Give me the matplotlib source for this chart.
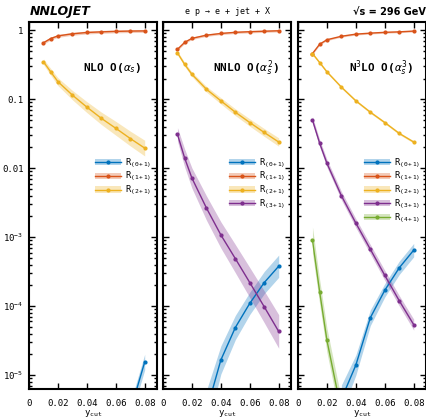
import numpy as np
import matplotlib
matplotlib.use("Agg")
import matplotlib.pyplot as plt
from matplotlib.patches import Patch
from matplotlib.lines import Line2D
from matplotlib.ticker import FixedLocator, LogLocator, NullFormatter

plt.rcParams['font.family'] = 'DejaVu Sans Mono'
plt.rcParams['mathtext.fontset'] = 'custom'
plt.rcParams['mathtext.rm'] = 'DejaVu Sans Mono'
plt.rcParams['mathtext.it'] = 'DejaVu Sans Mono:italic'
plt.rcParams['mathtext.bf'] = 'DejaVu Sans Mono:bold'

nan = np.nan
# y_cut points
ycut = [0.01, 0.015, 0.02, 0.03, 0.04, 0.05, 0.06, 0.07, 0.08]

# NLO
nlo_r01 = [nan, nan, nan, nan, nan, nan, nan, 3e-6, 1.55e-5]
nlo_r11 = [0.66, 0.76, 0.83, 0.89, 0.93, 0.95, 0.965, 0.975, 0.98]
nlo_r21 = [0.35, 0.25, 0.18, 0.115, 0.077, 0.053, 0.038, 0.027, 0.0196]
nlo_r01_unc = [1.3] * 9
nlo_r11_unc = [1.05] * 9
nlo_r21_unc = [1.1, 1.12, 1.14, 1.17, 1.2, 1.23, 1.26, 1.28, 1.3]

# NNLO
nnlo_r01 = [nan, nan, nan, 3e-6, 1.66e-5, 4.9e-5, 1.1e-4, 2.2e-4, 3.8e-4]
nnlo_r11 = [0.53, 0.67, 0.765, 0.85, 0.90, 0.935, 0.955, 0.97, 0.985]
nnlo_r21 = [0.47, 0.32, 0.23, 0.14, 0.095, 0.065, 0.046, 0.033, 0.024]
nnlo_r31 = [0.031, 0.014, 0.0072, 0.00266, 0.00108, 4.9e-4, 2.2e-4, 9.8e-5, 4.3e-5]
nnlo_r01_unc = [1, 1, 1, 2.0, 1.6, 1.5, 1.45, 1.45, 1.45]
nnlo_r11_unc = [1.04] * 9
nnlo_r21_unc = [1.06, 1.07, 1.08, 1.1, 1.11, 1.12, 1.13, 1.14, 1.15]
nnlo_r31_unc = [1.25, 1.35, 1.4, 1.5, 1.55, 1.6, 1.65, 1.7, 1.75]

# N3LO
n3lo_r01 = [nan, nan, nan, 4.5e-6, 1.4e-5, 6.8e-5, 1.7e-4, 3.6e-4, 6.5e-4]
n3lo_r11 = [0.46, 0.63, 0.73, 0.82, 0.88, 0.91, 0.935, 0.95, 0.975]
n3lo_r21 = [0.46, 0.34, 0.25, 0.15, 0.095, 0.065, 0.046, 0.032, 0.024]
n3lo_r31 = [0.05, 0.023, 0.0118, 0.004, 0.0016, 6.7e-4, 2.8e-4, 1.2e-4, 5.4e-5]
n3lo_r41 = [9.1e-4, 1.6e-4, 3.2e-5, 3e-6, nan, nan, nan, nan, nan]
n3lo_r01_unc = [1, 1, 1, 1.6, 1.4, 1.3, 1.25, 1.25, 1.25]
n3lo_r11_unc = [1.03] * 9
n3lo_r21_unc = [1.04] * 9
n3lo_r31_unc = [1.12, 1.13, 1.14, 1.15, 1.16, 1.17, 1.18, 1.19, 1.2]
n3lo_r41_unc = [1.55, 1.5, 1.5, 1.5, 1, 1, 1, 1, 1]

colors = ['#0072BD', '#D95319', '#EDB120', '#7E2F8E', '#77AC30']
names = [r'R$_{(0+1)}$', r'R$_{(1+1)}$', r'R$_{(2+1)}$', r'R$_{(3+1)}$', r'R$_{(4+1)}$']

panels = [
    (r'NLO O($\alpha_s$)', [nlo_r01, nlo_r11, nlo_r21],
     [nlo_r01_unc, nlo_r11_unc, nlo_r21_unc]),
    (r'NNLO O($\alpha_s^2$)', [nnlo_r01, nnlo_r11, nnlo_r21, nnlo_r31],
     [nnlo_r01_unc, nnlo_r11_unc, nnlo_r21_unc, nnlo_r31_unc]),
    (r'N$^3$LO O($\alpha_s^3$)', [n3lo_r01, n3lo_r11, n3lo_r21, n3lo_r31, n3lo_r41],
     [n3lo_r01_unc, n3lo_r11_unc, n3lo_r21_unc, n3lo_r31_unc, n3lo_r41_unc]),
]

fig = plt.figure(figsize=(4.26, 4.20), dpi=100)
lefts = [29 / 426, 163 / 426, 298 / 426]
width = 128 / 426
bottom = 1 - 389 / 420
height = (389 - 22) / 420

x = np.array(ycut)
for i, (label, series, uncs) in enumerate(panels):
    ax = fig.add_axes([lefts[i], bottom, width, height])
    handles = []
    for j, (vals, unc) in enumerate(zip(series, uncs)):
        v = np.array(vals)
        f = np.array(unc)
        ax.fill_between(x, v / f, v * f, color=colors[j], alpha=0.3, lw=0)
        ax.plot(x, v, '-', marker='o', ms=2, lw=1, color=colors[j])
        handles.append((Patch(facecolor=colors[j], alpha=0.3, lw=0),
                        Line2D([], [], color=colors[j], lw=1, marker='o', ms=2)))
    ax.set_yscale('log')
    ax.set_xlim(0, 0.0885)
    ax.set_ylim(6.3e-6, 1.32)
    ax.set_xticks([0, 0.02, 0.04, 0.06, 0.08])
    ax.set_xticklabels(['0', '0.02', '0.04', '0.06', '0.08'])
    ax.yaxis.set_major_locator(FixedLocator([1e-5, 1e-4, 1e-3, 1e-2, 0.1, 1]))
    ax.yaxis.set_minor_locator(LogLocator(base=10, subs=np.arange(2, 10)))
    ax.yaxis.set_minor_formatter(NullFormatter())
    if i == 0:
        ax.set_yticklabels([r'10$^{-5}$', r'10$^{-4}$', r'10$^{-3}$', '0.01', '0.1', '1'])
    else:
        ax.set_yticklabels([])
    ax.tick_params(which='both', direction='in', top=True, right=True,
                   labelsize=6.5, width=1)
    ax.tick_params(which='major', length=4)
    ax.tick_params(which='minor', length=2)
    ax.tick_params(axis='x', pad=7)
    ax.tick_params(axis='y', pad=4)
    for s in ax.spines.values():
        s.set_linewidth(1.5)
    ax.set_xlabel(r'y$_{\rm cut}$', fontsize=6.5, labelpad=0.5)
    ax.text(0.65, 0.875, label, transform=ax.transAxes, ha='center', va='center',
            fontsize=8, fontweight='bold')
    ax.legend(handles, names[:len(series)], loc='upper right',
              bbox_to_anchor=(1.0, 0.65), frameon=False, fontsize=6.4,
              handlelength=2.9, labelspacing=0.0, handletextpad=0.5,
              borderaxespad=0.2)

fig.text(30 / 426, 1 - 12 / 420, 'NNLOJET', ha='left', va='center', fontsize=9,
         fontweight='heavy', style='italic', family='DejaVu Sans')
fig.text(228 / 426, 1 - 12 / 420, 'e p \u2192 e + jet + X', ha='center', va='center',
         fontsize=6)
fig.text(1.0, 1 - 12 / 420, '\u221as = 296 GeV', ha='right', va='center', fontsize=7,
         fontweight='bold', family='DejaVu Sans')

fig.savefig('out.png', dpi=100)
